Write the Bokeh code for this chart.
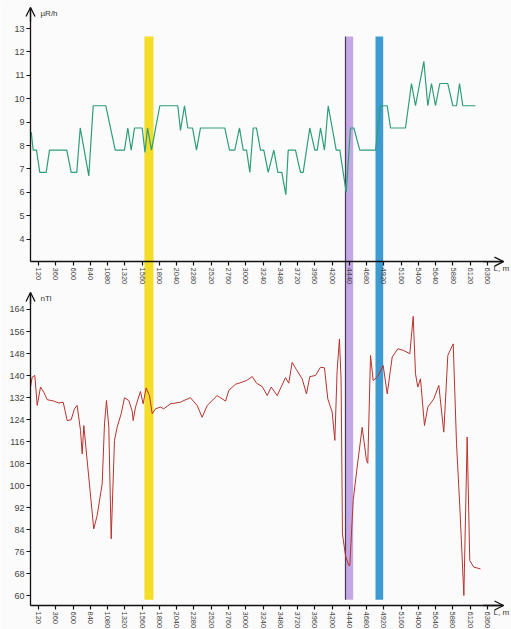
from bokeh.plotting import figure
from bokeh.models import Range1d, LinearAxis, FixedTicker, Arrow, OpenHead, Label
from bokeh.embed import file_html
from bokeh.resources import INLINE

# ---------------- data ----------------
dose_dist = [20, 46, 92, 138, 227, 273, 513, 574, 652, 700, 819, 880, 1055, 1186, 1315, 1361, 1408, 1454,
             1561, 1600, 1635, 1690, 1806, 2056, 2093, 2149, 2195, 2260, 2316, 2371, 2709, 2774, 2848, 2913,
             2965, 3011, 3057, 3104, 3149, 3205, 3251, 3312, 3390, 3446, 3501, 3557, 3590, 3691, 3761, 3798,
             3890, 3960, 3993, 4039, 4094, 4146, 4257, 4307, 4396, 4456, 4502, 4585, 4803, 4873, 4966, 5012,
             5220, 5303, 5359, 5475, 5530, 5581, 5637, 5697, 5808, 5878, 5929, 5971, 6016, 6193]
dose_rate = [8.57, 7.8, 7.8, 6.85, 6.85, 7.8, 7.8, 6.85, 6.85, 8.75, 6.7, 9.7, 9.7, 7.8, 7.8, 8.75, 7.8, 8.75,
             8.75, 7.7, 8.75, 7.8, 9.7, 9.7, 8.65, 9.7, 8.75, 8.75, 7.8, 8.75, 8.75, 7.8, 7.8, 8.75,
             7.8, 7.8, 6.85, 8.75, 8.75, 7.8, 7.8, 6.85, 7.8, 6.85, 6.85, 5.9, 7.8, 7.8, 6.85, 6.85,
             8.75, 7.8, 7.8, 8.75, 7.8, 9.7, 7.8, 7.8, 6.0, 8.75, 8.75, 7.8, 7.8, 9.7, 9.7, 8.75,
             8.75, 10.65, 9.7, 11.6, 9.7, 10.65, 9.7, 10.65, 10.65, 9.7, 9.7, 10.65, 9.7, 9.7]

mag_dist = [9, 32, 69, 102, 148, 194, 241, 333, 402, 463, 519, 574, 620, 657, 704, 727, 750, 805, 888, 935,
            1005, 1037, 1065, 1097, 1130, 1176, 1213, 1269, 1315, 1375, 1422, 1436, 1468, 1537, 1574, 1616,
            1662, 1700, 1746, 1815, 1861, 1954, 2093, 2139, 2232, 2325, 2394, 2464, 2603, 2719, 2765, 2857,
            2950, 3011, 3090, 3150, 3229, 3298, 3354, 3437, 3552, 3598, 3645, 3705, 3784, 3844, 3890, 3969,
            4039, 4094, 4140, 4201, 4238, 4270, 4302, 4325, 4344, 4386, 4432, 4446, 4493, 4548, 4618, 4678,
            4696, 4734, 4771, 4826, 4910, 4966, 5035, 5113, 5196, 5280, 5327, 5359, 5391, 5428, 5484, 5530,
            5613, 5683, 5752, 5808, 5883, 5929, 5975, 6031, 6077, 6113, 6169, 6262]
mag_field = [135.8, 139.4, 140, 129.1, 135.8, 133.9, 131.2, 130.7, 130, 130.3, 123.6, 123.9, 127.9, 129.1,
             120, 111.5, 121.8, 106.7, 84.2, 89.1, 100.6, 122.4, 130.9, 121.2, 80.6, 116.4, 121.2, 126.1,
             131.9, 130.9, 127, 123.6, 128.5, 134.2, 129.7, 135.5, 132.7, 126.1, 127.9, 128.5, 127.9, 129.7,
             130.3, 130.9, 131.9, 129.1, 124.8, 129.1, 132.7, 130.7, 134.6, 136.8, 137.6, 138.2, 139.6, 137.2,
             136, 132.7, 135.8, 132.7, 139.2, 137.2, 144.8, 142.1, 138.8, 133.3, 139.6, 140, 143, 142.8,
             131.5, 126.7, 116.4, 141.8, 153.3, 138.2, 82.4, 74.5, 70.9, 70.9, 94.5, 106.7, 121.2, 109.1,
             108.1, 147.3, 138.2, 139.4, 143.6, 133.3, 146.7, 149.7, 149.1, 147.9, 161.5, 140.6, 135.8, 138.8,
             121.8, 128.5, 131.5, 136.4, 119.4, 147.3, 151.5, 115.2, 92.1, 60, 117.6, 72.7, 70.3, 69.7]

band_start = [1592, 4386, 4803]
band_end = [1718, 4493, 4910]
band_color = ["#f4dd26", "#c4a8e6", "#3e9bd2"]

x_ticks = [120, 360, 600, 840, 1080, 1320, 1560, 1800, 2040, 2280, 2520, 2760, 3000, 3240, 3480,
           3720, 3960, 4200, 4440, 4680, 4920, 5160, 5400, 5640, 5880, 6120, 6360]
dose_ticks = [4, 5, 6, 7, 8, 9, 10, 11, 12, 13]
mag_ticks = [60, 68, 76, 84, 92, 100, 108, 116, 124, 132, 140, 148, 156, 164]

# ---------------- figure ----------------
BG = "#fbfbfb"
p = figure(width=511, height=629, output_backend="svg", toolbar_location=None,
           x_range=Range1d(-408, 6693), y_range=Range1d(47.64, 276.36),
           x_axis_type=None, y_axis_type=None, min_border=0, title=None)
p.extra_y_ranges = {"top": Range1d(-12.68, 14.197)}
p.outline_line_color = None
p.background_fill_color = BG
p.border_fill_color = BG

# bands (spanning both panels)
p.quad(left=band_start, right=band_end, bottom=58.5, top=263.3, fill_color=band_color,
       line_color=None)
p.segment(x0=band_start[1:2], x1=band_start[1:2], y0=58.5, y1=263.3, line_color="#4a3a5a",
          line_width=1.2)

# series
p.line(dose_dist, dose_rate, y_range_name="top", line_color="#2e9e78", line_width=1.2)
p.line(mag_dist, mag_field, line_color="#b8332e", line_width=1.0)

X0 = 9            # x position of the y-axes
TOP_BASE = 3.04   # top panel x-axis level
BOT_BASE = 56.36  # bottom panel x-axis level
X_END = 6582


def style(ax, fs):
    ax.axis_line_color = "#111111"
    ax.axis_line_width = 1.3
    ax.major_tick_line_color = "#111111"
    ax.major_tick_line_width = 1.2
    ax.major_tick_out = 4
    ax.major_tick_in = 0
    ax.minor_tick_out = 0
    ax.minor_tick_in = 0
    ax.major_label_text_font = "Liberation Sans"
    ax.major_label_text_font_size = fs
    ax.major_label_text_color = "#444444"
    ax.major_label_standoff = 2


ay_top = LinearAxis(y_range_name="top", fixed_location=X0, bounds=(TOP_BASE, 13.9),
                    ticker=FixedTicker(ticks=dose_ticks))
style(ay_top, "9px")
p.add_layout(ay_top, "left")

ay_bot = LinearAxis(fixed_location=X0, bounds=(BOT_BASE, 170.2), ticker=FixedTicker(ticks=mag_ticks))
style(ay_bot, "9px")
p.add_layout(ay_bot, "left")

ax_top = LinearAxis(y_range_name="top", fixed_location=TOP_BASE, bounds=(X0, X_END),
                    ticker=FixedTicker(ticks=x_ticks), major_label_orientation="vertical")
style(ax_top, "7.5px")
p.add_layout(ax_top, "below")

ax_bot = LinearAxis(fixed_location=BOT_BASE, bounds=(X0, X_END),
                    ticker=FixedTicker(ticks=x_ticks), major_label_orientation="vertical")
style(ax_bot, "7.5px")
p.add_layout(ax_bot, "below")


def head():
    return OpenHead(size=9, line_width=1.3, line_color="#111111")


p.add_layout(Arrow(end=head(), x_start=X0, y_start=13.3, x_end=X0, y_end=13.9, y_range_name="top",
                   line_color="#111111", line_width=1.3))
p.add_layout(Arrow(end=head(), x_start=X0, y_start=166, x_end=X0, y_end=170.2,
                   line_color="#111111", line_width=1.3))
p.add_layout(Arrow(end=head(), x_start=6300, y_start=TOP_BASE, x_end=X_END, y_end=TOP_BASE,
                   y_range_name="top", line_color="#111111", line_width=1.3))
p.add_layout(Arrow(end=head(), x_start=6300, y_start=BOT_BASE, x_end=X_END, y_end=BOT_BASE,
                   line_color="#111111", line_width=1.3))

# axis titles
lab = dict(text_font="Liberation Sans", text_font_size="8px", text_color="#333333", text_baseline="middle")
p.add_layout(Label(x=148, y=13.65, y_range_name="top", text="µR/h", **lab))
p.add_layout(Label(x=148, y=168, text="nTl", **lab))
p.add_layout(Label(x=6660, y=2.75, y_range_name="top", text="L, m", text_align="right", **lab))
p.add_layout(Label(x=6660, y=54.0, text="L, m", text_align="right", **lab))

open("out.html", "w").write(file_html(p, INLINE))
